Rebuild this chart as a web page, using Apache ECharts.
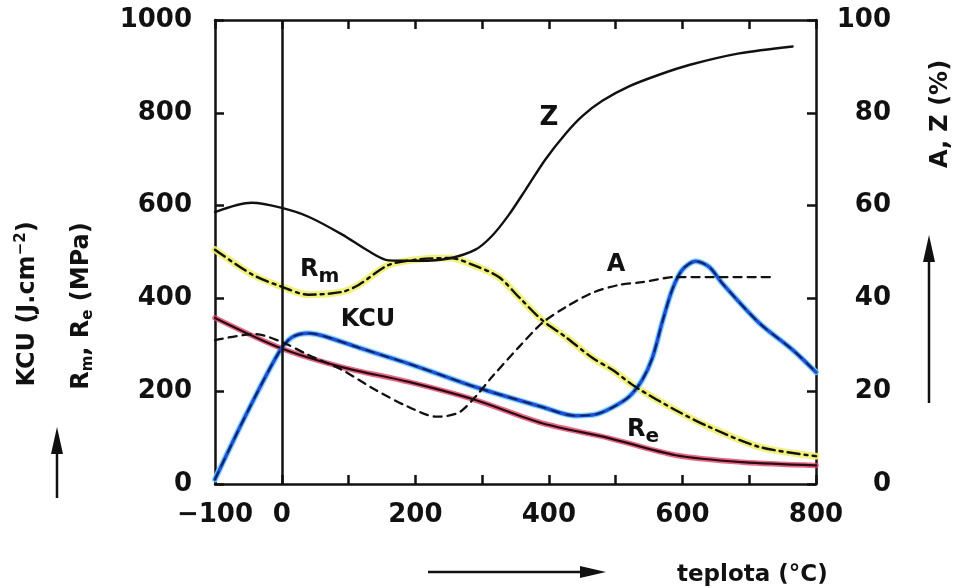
<!DOCTYPE html>
<html>
<head>
<meta charset="utf-8">
<script src="https://cdn.jsdelivr.net/npm/echarts@6/dist/echarts.min.js"></script>
<style>html,body{margin:0;padding:0;background:#fff}#c{width:957px;height:588px}</style>
</head>
<body>
<div id="c"></div>
<script>
// ---- data ----
const xTickValues = [-100, 0, 200, 400, 600, 800];
const xTickTexts  = ['\u2212100', '0', '200', '400', '600', '800'];

// Z (%), right axis
const tempZ = [-100, -45, 0, 40, 90, 130, 160, 205, 250, 290, 315, 340, 365, 395, 425, 450, 480, 520, 565, 610, 685, 765];
const valZ  = [58.6, 60.6, 59.5, 57.6, 53.8, 50.2, 48.2, 48.1, 48.6, 50.5, 53.5, 58.0, 63.4, 70.0, 75.5, 79.3, 82.6, 85.7, 88.2, 90.3, 92.8, 94.3];

// A (%), right axis
const tempA = [-100, -40, 0, 40, 90, 140, 190, 232, 265, 290, 315, 355, 390, 425, 465, 505, 540, 590, 665, 735];
const valA  = [31.0, 32.3, 30.6, 27.8, 24.6, 20.3, 16.6, 14.5, 15.4, 18.8, 23.1, 29.5, 34.7, 38.1, 41.2, 42.9, 43.5, 44.6, 44.6, 44.6];

// Rm (MPa), left axis
const tempRm = [-100, -45, 0, 40, 90, 115, 160, 205, 252, 290, 325, 355, 390, 425, 465, 495, 530, 590, 640, 715, 800];
const valRm  = [505, 452, 425, 408, 414, 429, 472, 484, 487, 470, 446, 403, 353, 317, 272, 246, 209, 159, 123, 80, 60];

// KCU (J.cm-2), left axis
const tempKCU = [-100, -55, -5, 15, 40, 65, 115, 205, 290, 390, 440, 470, 495, 520, 540, 555, 570, 585, 600, 620, 640, 660, 715, 765, 800];
const valKCU  = [10, 145, 282, 316, 325, 318, 294, 252, 209, 166, 147, 150, 165, 188, 225, 272, 350, 420, 462, 480, 468, 432, 347, 289, 241];

// Re (MPa), left axis
const tempRe = [-100, 0, 90, 190, 290, 390, 490, 590, 690, 800];
const valRe  = [358, 292, 252, 220, 181, 131, 99, 62, 47, 40];

const pair = (xs, ys) => xs.map((x, i) => [x, ys[i]]);

const FONT = 'DejaVu Sans';
const axisLine = { show: true, onZero: false, lineStyle: { color: '#111', width: 2.5 } };
const tick = { show: true, inside: true, length: 9, lineStyle: { color: '#111', width: 2.5 } };

const chart = echarts.init(document.getElementById('c'), null, { renderer: 'canvas' });

function line(name, data, yIdx, color, width, type, z, opacity) {
  return {
    name, type: 'line', data, xAxisIndex: 0, yAxisIndex: yIdx,
    smooth: 0.3, symbol: 'none', z: z, silent: true,
    lineStyle: { color, width, type: type || 'solid', opacity: opacity == null ? 1 : opacity, cap: 'round', join: 'round' }
  };
}

const series = [
  line('Rm-under', pair(tempRm, valRm), 0, '#f0f070', 7, 'solid', 1, 0.9),
  line('KCU-under', pair(tempKCU, valKCU), 0, '#7fd3f2', 6, 'solid', 1, 0.9),
  line('Re-under', pair(tempRe, valRe), 0, '#e0456a', 5.5, 'solid', 1, 0.8),
  line('Re', pair(tempRe, valRe), 0, '#2a0a10', 2.2, 'solid', 3),
  line('KCU', pair(tempKCU, valKCU), 0, '#1f4fd6', 3.5, 'solid', 3),
  line('KCU-dash', pair(tempKCU, valKCU), 0, '#0a0a20', 1.6, [8, 7], 4, 0.7),
  line('Rm', pair(tempRm, valRm), 0, '#111', 2.4, [12, 5, 3, 5], 4),
  line('A', pair(tempA, valA), 1, '#111', 2.3, [8, 6], 4),
  line('Z', pair(tempZ, valZ), 1, '#111', 2.4, 'solid', 4)
];
series[series.length - 1].markLine = {
  silent: true, symbol: ['none', 'none'], label: { show: false },
  lineStyle: { color: '#111', width: 2.5, type: 'solid' },
  data: [{ xAxis: 0 }]
};

function richText(x, y, text, rich, rotation, align) {
  return {
    type: 'text', x, y, rotation: rotation || 0, silent: true,
    style: { text, rich, fill: '#111', textAlign: align || 'center', textVerticalAlign: 'middle', fontFamily: FONT, fontWeight: 'bold' }
  };
}

const R = (size) => ({ fontFamily: FONT, fontWeight: 'bold', fontSize: size, fill: '#111', lineHeight: size + 4 });
const SUP = (size, lh) => ({ fontFamily: FONT, fontWeight: 'bold', fontSize: size, fill: '#111', verticalAlign: 'top', lineHeight: lh });
const SUB = (size, lh) => ({ fontFamily: FONT, fontWeight: 'bold', fontSize: size, fill: '#111', verticalAlign: 'bottom', lineHeight: lh });

chart.setOption({
  animation: false,
  backgroundColor: '#fff',
  grid: { left: 215, right: 141, top: 20, bottom: 104 },
  xAxis: [
    {
      type: 'value', position: 'bottom', min: -100, max: 800, interval: 100,
      axisLine, axisTick: tick, splitLine: { show: false },
      axisLabel: {
        margin: 18, color: '#111', fontFamily: FONT, fontWeight: 'bold', fontSize: 26,
        formatter: v => { const i = xTickValues.indexOf(v); return i >= 0 ? xTickTexts[i] : ''; }
      }
    },
    {
      type: 'value', position: 'top', min: -100, max: 800, interval: 100,
      axisLine, axisTick: tick, splitLine: { show: false }, axisLabel: { show: false }
    }
  ],
  yAxis: [
    {
      type: 'value', position: 'left', min: 0, max: 1000, interval: 200,
      axisLine, axisTick: tick, splitLine: { show: false },
      axisLabel: { margin: 23, color: '#111', fontFamily: FONT, fontWeight: 'bold', fontSize: 26, formatter: v => String(v) }
    },
    {
      type: 'value', position: 'right', min: 0, max: 100, interval: 20,
      axisLine, axisTick: tick, splitLine: { show: false },
      axisLabel: { margin: 75, align: 'right', color: '#111', fontFamily: FONT, fontWeight: 'bold', fontSize: 26, formatter: v => String(v) }
    }
  ],
  series,
  graphic: [
    // left axis titles
    richText(28, 304, '{a|KCU (J.cm}{s|\u22122}{a|)}', { a: R(24), s: SUP(15, 28) }, Math.PI / 2),
    richText(82, 306, '{a|R}{b|m}{a|, R}{b|e}{a| (MPa)}', { a: R(24), b: SUB(15, 28) }, Math.PI / 2),
    // right axis title
    richText(941, 114, '{a|A, Z (%)}', { a: R(24) }, Math.PI / 2),
    // bottom axis title
    richText(677, 575, '{a|teplota (\u00B0C)}', { a: R(23) }, 0, 'left'),
    // arrows
    { type: 'polyline', silent: true, shape: { points: [[57, 498], [57, 448]] }, style: { stroke: '#111', lineWidth: 2.5 } },
    { type: 'polygon', silent: true, shape: { points: [[57, 427], [51, 454], [63, 454]] }, style: { fill: '#111' } },
    { type: 'polyline', silent: true, shape: { points: [[929, 403], [929, 255]] }, style: { stroke: '#111', lineWidth: 2.5 } },
    { type: 'polygon', silent: true, shape: { points: [[929, 235], [923, 262], [935, 262]] }, style: { fill: '#111' } },
    { type: 'polyline', silent: true, shape: { points: [[428, 572], [585, 572]] }, style: { stroke: '#111', lineWidth: 2.5 } },
    { type: 'polygon', silent: true, shape: { points: [[606, 572], [580, 566], [580, 578]] }, style: { fill: '#111' } },
    // curve labels
    richText(549, 118, '{a|Z}', { a: R(26) }),
    richText(616, 265, '{a|A}', { a: R(24) }),
    richText(368, 320, '{a|KCU}', { a: R(24) }),
    richText(300, 270, '{a|R}{b|m}', { a: R(24), b: SUB(20, 34) }, 0, 'left'),
    richText(627, 430, '{a|R}{b|e}', { a: R(24), b: SUB(20, 34) }, 0, 'left')
  ]
});
</script>
</body>
</html>
